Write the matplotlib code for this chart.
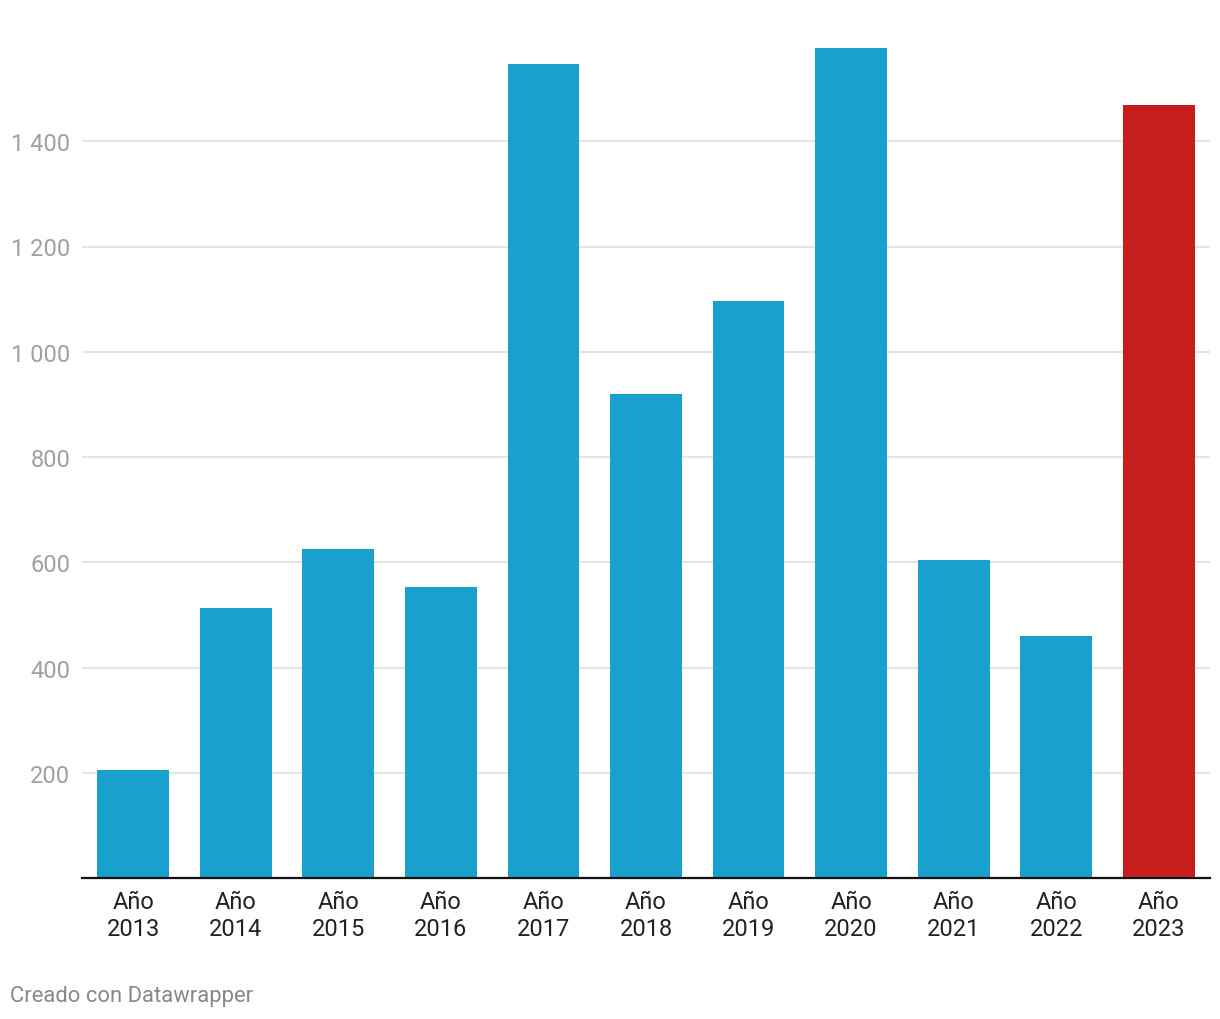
import matplotlib
matplotlib.use("Agg")
import matplotlib.pyplot as plt

plt.rcParams['font.family'] = ['Roboto', 'DejaVu Sans']

years = ["2013", "2014", "2015", "2016", "2017", "2018", "2019", "2020", "2021", "2022", "2023"]
values = [205, 513, 625, 553, 1546, 919, 1096, 1577, 604, 460, 1468]
y_ticks = [200, 400, 600, 800, 1000, 1200, 1400]

labels = [f"Año\n{y}" for y in years]
colors = ["#18a1cd"] * (len(years) - 1) + ["#c71e1d"]

fig = plt.figure(figsize=(12.2, 10.2), dpi=100)
ax = fig.add_axes([82 / 1220, 141 / 1020, (1210 - 82) / 1220, (983 - 141) / 1020])

x = list(range(len(years)))
ax.bar(x, values, width=0.70, color=colors, zorder=3)

ax.set_xlim(-0.5, len(years) - 0.5)
ax.set_ylim(0, 1600)

ax.set_yticks(y_ticks)
ax.set_yticklabels([f"{v:,}".replace(",", " ") for v in y_ticks])
ax.tick_params(axis="y", length=0, pad=8.5, labelsize=17, labelcolor="#a0a0a0")
ax.grid(axis="y", color="#e5e5e5", linewidth=1.5, zorder=0)

ax.set_xticks(x)
ax.set_xticklabels(labels, linespacing=1.22)
ax.tick_params(axis="x", length=0, pad=9, labelsize=17, labelcolor="#222222")

for s in ["top", "right", "left"]:
    ax.spines[s].set_visible(False)
ax.spines["bottom"].set_color("#111111")
ax.spines["bottom"].set_linewidth(1.6)
ax.spines["bottom"].set_zorder(4)

fig.text(10 / 1220, 1 - 997 / 1020, "Creado con Datawrapper", ha="left", va="center",
         fontsize=15.8, color="#888888")

fig.savefig("out.png", dpi=100, facecolor="white")
